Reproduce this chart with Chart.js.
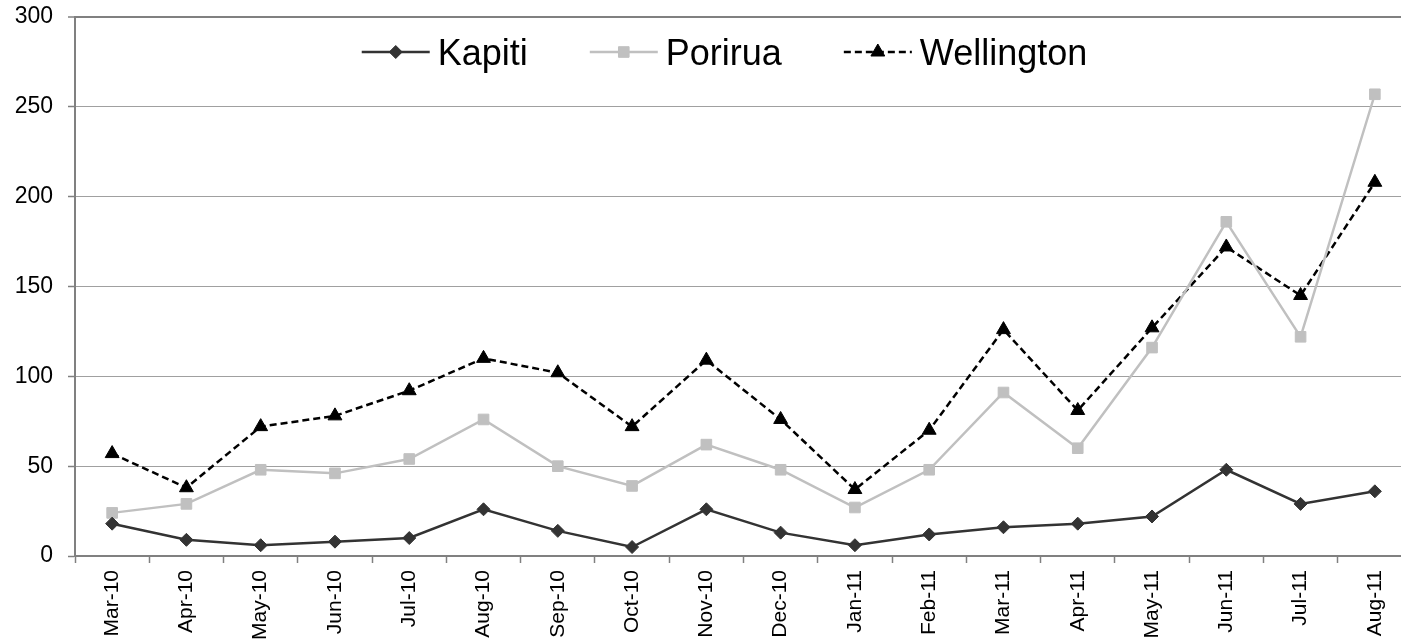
<!DOCTYPE html>
<html>
<head>
<meta charset="utf-8">
<script src="https://cdn.jsdelivr.net/npm/chart.js@4/dist/chart.umd.min.js"></script>
<style>
  html, body { margin: 0; padding: 0; background: #fff; overflow: hidden; }
  /* the original plot runs a little past the right edge of the picture,
     so the canvas is a bit wider than the window and gets cropped */
  #wrap { width: 1421px; height: 641px; position: relative; }
</style>
</head>
<body>
<div id="wrap"><canvas id="chart"></canvas></div>
<script>
// month labels along the x axis
const months = ['Mar-10', 'Apr-10', 'May-10', 'Jun-10', 'Jul-10', 'Aug-10', 'Sep-10', 'Oct-10', 'Nov-10',
                'Dec-10', 'Jan-11', 'Feb-11', 'Mar-11', 'Apr-11', 'May-11', 'Jun-11', 'Jul-11', 'Aug-11'];

// series values
const kapiti     = [18, 9, 6, 8, 10, 26, 14, 5, 26, 13, 6, 12, 16, 18, 22, 48, 29, 36];
const porirua    = [24, 29, 48, 46, 54, 76, 50, 39, 62, 48, 27, 48, 91, 60, 116, 186, 122, 257];
const wellington = [57, 38, 72, 78, 92, 110, 102, 72, 109, 76, 37, 70, 126, 81, 127, 172, 145, 208];

// y axis range
const yMin = 0;
const yMax = 300;
const yStep = 50;

const FONT = '"Liberation Sans", Arial, sans-serif';
const AXIS_GREY = '#808080';

// Legend drawn inside the plot, line + marker + label like the original
const inlineLegend = {
    id: 'inlineLegend',
    afterDraw(chart) {
        const ctx = chart.ctx;
        const area = chart.chartArea;
        const lineLen = 68, textGap = 8, itemGap = 62;
        ctx.save();
        ctx.font = '36px ' + FONT;
        const items = chart.data.datasets.map(ds => ({ ds, w: ctx.measureText(ds.label).width }));
        const total = items.reduce((s, it) => s + lineLen + textGap + it.w, 0) + itemGap * (items.length - 1);
        let x = (area.left + area.right) / 2 - total / 2 - 19;
        const yMid = area.top + 35;
        const yBase = area.top + 48;
        items.forEach(({ ds, w }) => {
            ctx.strokeStyle = ds.borderColor;
            ctx.lineWidth = ds.borderWidth;
            ctx.setLineDash(ds.borderDash || []);
            ctx.beginPath();
            ctx.moveTo(x, yMid);
            ctx.lineTo(x + lineLen, yMid);
            ctx.stroke();
            ctx.setLineDash([]);
            ctx.fillStyle = ds.pointBackgroundColor;
            ctx.strokeStyle = ds.pointBorderColor;
            ctx.lineWidth = 1;
            Chart.helpers.drawPoint(ctx, {
                pointStyle: ds.pointStyle,
                radius: ds.pointRadius,
                borderWidth: 1,
                rotation: 0
            }, x + lineLen / 2, yMid);
            ctx.fillStyle = '#000';
            ctx.textBaseline = 'alphabetic';
            ctx.textAlign = 'left';
            ctx.fillText(ds.label, x + lineLen + textGap, yBase);
            x += lineLen + textGap + w + itemGap;
        });
        ctx.restore();
    }
};

function series(label, data, color, style, radius, dash) {
    return {
        label: label,
        data: data,
        borderColor: color,
        backgroundColor: color,
        borderWidth: 2.5,
        borderDash: dash,
        pointStyle: style,
        pointRadius: radius,
        pointHoverRadius: radius,
        pointBackgroundColor: color,
        pointBorderColor: color,
        pointBorderWidth: 1,
        tension: 0,
        fill: false
    };
}

const ctx = document.getElementById('chart').getContext('2d');
new Chart(ctx, {
    type: 'line',
    data: {
        labels: months,
        datasets: [
            series('Kapiti', kapiti, '#333333', 'rectRot', 6.5, []),
            series('Porirua', porirua, '#c0c0c0', 'rect', 7.5, []),
            series('Wellington', wellington, '#000000', 'triangle', 8, [7, 4])
        ]
    },
    options: {
        responsive: true,
        maintainAspectRatio: false,
        animation: false,
        layout: { padding: { top: 17, right: 0, left: 0, bottom: 0 } },
        plugins: {
            legend: { display: false },
            tooltip: { enabled: false }
        },
        scales: {
            x: {
                offset: true,
                border: { color: AXIS_GREY, width: 2 },
                grid: {
                    offset: true,
                    drawOnChartArea: false,
                    tickLength: 7,
                    tickColor: AXIS_GREY,
                    tickWidth: 1.5
                },
                ticks: {
                    minRotation: 90,
                    maxRotation: 90,
                    autoSkip: false,
                    padding: 7,
                    color: '#000',
                    font: { family: FONT, size: 21 }
                },
                afterFit(scale) {
                    scale.height = 85;
                    scale.paddingLeft = 0;
                    scale.paddingRight = 0;
                }
            },
            y: {
                min: yMin,
                max: yMax,
                border: { color: AXIS_GREY, width: 2 },
                grid: {
                    color: c => c.tick && c.tick.value === yMax ? AXIS_GREY : '#a0a0a0',
                    lineWidth: c => c.tick && c.tick.value === yMax ? 2 : 1,
                    tickLength: 7,
                    tickColor: AXIS_GREY,
                    tickWidth: 1.5
                },
                ticks: {
                    stepSize: yStep,
                    padding: 15,
                    color: '#000',
                    font: { family: FONT, size: 23 }
                },
                afterFit(scale) {
                    scale.width = 75;
                    scale.paddingTop = 0;
                    scale.paddingBottom = 0;
                }
            }
        }
    },
    plugins: [inlineLegend]
});
</script>
</body>
</html>
